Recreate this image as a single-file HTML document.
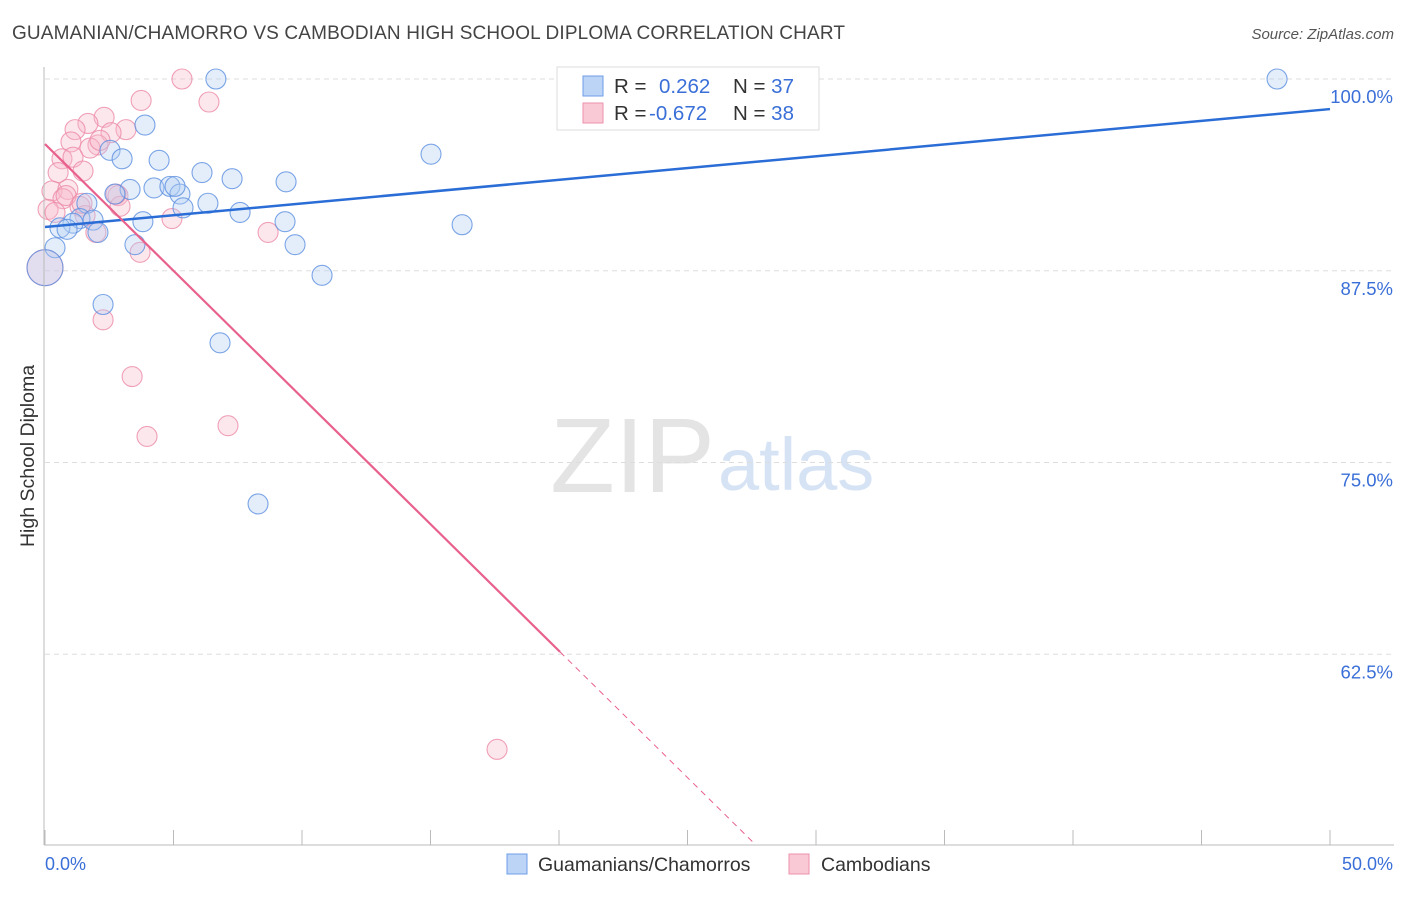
<!DOCTYPE html>
<html><head><meta charset="utf-8"><style>
body{margin:0;background:#fff;font-family:"Liberation Sans",sans-serif;}
svg text{font-family:"Liberation Sans",sans-serif;}
</style></head><body>
<svg id="c" width="1406" height="892">
<text x="12" y="39" font-size="19" fill="#444" textLength="833">GUAMANIAN/CHAMORRO VS CAMBODIAN HIGH SCHOOL DIPLOMA CORRELATION CHART</text>
<text x="1394" y="39" font-size="15" fill="#555" text-anchor="end" font-style="italic">Source: ZipAtlas.com</text>
<text x="715" y="492" font-size="106" fill="#e4e4e4" text-anchor="end" font-family="Liberation Serif">ZIP</text>
<text x="718" y="490" font-size="74" fill="#d6e3f5">atlas</text>
<g id="grid"></g><g id="pts"></g><g id="lines"></g>
<line x1="44" y1="67" x2="44" y2="845" stroke="#bbb"/>
<line x1="44" y1="845" x2="1394" y2="845" stroke="#bbb"/>
<text transform="translate(34,456) rotate(-90)" font-size="19.5" fill="#333" text-anchor="middle">High School Diploma</text>
<text x="45" y="870" font-size="18" fill="#3a6fd8">0.0%</text>
<text x="1393" y="870" font-size="18" fill="#3a6fd8" text-anchor="end">50.0%</text>
<g>
<rect x="557" y="67" width="262" height="63" fill="#fff" stroke="#ddd"/>
<rect x="583" y="76" width="20" height="20" fill="#bcd4f6" stroke="#6e9ee8"/>
<rect x="583" y="103" width="20" height="20" fill="#f9c9d6" stroke="#ee91ab"/>
<text x="614" y="93" font-size="20.5" fill="#333">R = <tspan fill="#3a6fd8" x="659">0.262</tspan><tspan x="733">N = </tspan><tspan fill="#3a6fd8">37</tspan></text>
<text x="614" y="120" font-size="20.5" fill="#333">R = <tspan fill="#3a6fd8" x="649">-0.672</tspan><tspan x="733">N = </tspan><tspan fill="#3a6fd8">38</tspan></text>
</g>
<g>
<rect x="507" y="854" width="20" height="20" fill="#bcd4f6" stroke="#6e9ee8"/>
<text x="538" y="871" font-size="19.5" fill="#333">Guamanians/Chamorros</text>
<rect x="789" y="854" width="20" height="20" fill="#f9c9d6" stroke="#ee91ab"/>
<text x="821" y="871" font-size="19.5" fill="#333">Cambodians</text>
</g>
</svg>
<script>
const yTicks=[100,87.5,75,62.5];
const yTickLabels=["100.0%","87.5%","75.0%","62.5%"];
const xTicks=[0,5,10,15,20,25,30,35,40,45,50];
const blueX=[6.65,47.94,3.89,2.53,3.0,4.44,15.02,6.11,7.28,9.38,4.24,4.86,3.31,5.25,2.72,6.34,1.63,5.37,7.59,1.36,1.87,3.81,9.34,1.09,16.23,0.58,0.86,2.06,0.39,3.5,9.73,10.78,0,2.26,6.81,8.29,5.06];
const blueY=[100,100,97.0,95.35,94.8,94.7,95.1,93.9,93.5,93.3,92.9,93.0,92.8,92.5,92.5,91.9,91.9,91.6,91.3,90.9,90.8,90.7,90.7,90.6,90.5,90.3,90.2,90.0,89.0,89.2,89.2,87.2,87.7,85.3,82.8,72.3,93.0];
const pinkX=[5.33,3.74,6.38,2.30,1.67,3.15,1.17,2.57,1.01,2.06,1.75,0.66,1.09,0.51,1.48,0.27,0.89,0.70,2.84,1.36,2.92,0.12,0.39,1.56,4.94,1.98,8.68,3.70,0,2.26,3.39,3.97,7.12,17.59,2.14,2.76,0.82,1.44];
const pinkY=[100,98.6,98.5,97.5,97.1,96.7,96.7,96.5,95.9,95.7,95.5,94.8,94.9,93.9,94.0,92.7,92.8,92.2,92.4,91.7,91.7,91.5,91.3,91.1,90.9,90.0,90.0,88.7,87.7,84.3,80.6,76.7,77.4,56.3,96.0,92.5,92.4,91.9];
const blueTrend=[90.35,98.04];
const pinkTrend=[95.76,-1.652];
const X=v=>45+v*25.7, Y=v=>79+(100-v)*15.34;
const NS="http://www.w3.org/2000/svg";
function mk(t,a,p){const e=document.createElementNS(NS,t);for(const k in a)e.setAttribute(k,a[k]);p.appendChild(e);return e;}
const grid=document.getElementById('grid');
yTicks.forEach((t,i)=>{
 const l=mk('line',{x1:45,x2:1394,y1:Y(t),y2:Y(t),stroke:'#ddd','stroke-dasharray':'5,4'},grid);
 
 
 const tx=mk('text',{x:1393,y:Y(t)+24,'font-size':18.5,fill:'#3a6fd8','text-anchor':'end'},grid);
 tx.textContent=yTickLabels[i];
 
 
});
xTicks.forEach(t=>{
 const l=mk('line',{x1:X(t),x2:X(t),y1:830,y2:845,stroke:'#bbb'},grid);
 
 
});
const pts=document.getElementById('pts');
function draw(xs,ys,fill,stroke,name){xs.forEach((x,i)=>{
 const r=(x===0&&ys[i]>87&&ys[i]<88.5)?18:10;
 const c=mk('circle',{cx:X(x),cy:Y(ys[i]),r:r,fill:fill,'fill-opacity':0.35,stroke:stroke,'stroke-width':1.1,'stroke-opacity':0.8},pts);
 
 
});}
draw(pinkX,pinkY,'#f7b9cb','#ec8aa6','cambodian-point');
draw(blueX,blueY,'#b3cdf3','#5b8fe0','guamanian-point');
const ln=document.getElementById('lines');
let b=mk('line',{x1:X(0),y1:Y(blueTrend[0]),x2:X(50),y2:Y(blueTrend[1]),stroke:'#2b6dd6','stroke-width':2.5},ln);


const pEnd=20.04, pBot=(50.07-pinkTrend[0])/pinkTrend[1];
let p=mk('line',{x1:X(0),y1:Y(pinkTrend[0]),x2:X(pEnd),y2:Y(pinkTrend[0]+pinkTrend[1]*pEnd),stroke:'#e8618c','stroke-width':2.2},ln);


let pd=mk('line',{x1:X(pEnd),y1:Y(pinkTrend[0]+pinkTrend[1]*pEnd),x2:X(pBot),y2:Y(pinkTrend[0]+pinkTrend[1]*pBot),stroke:'#e8618c','stroke-width':1,'stroke-dasharray':'6,5'},ln);


</script>
</body></html>
